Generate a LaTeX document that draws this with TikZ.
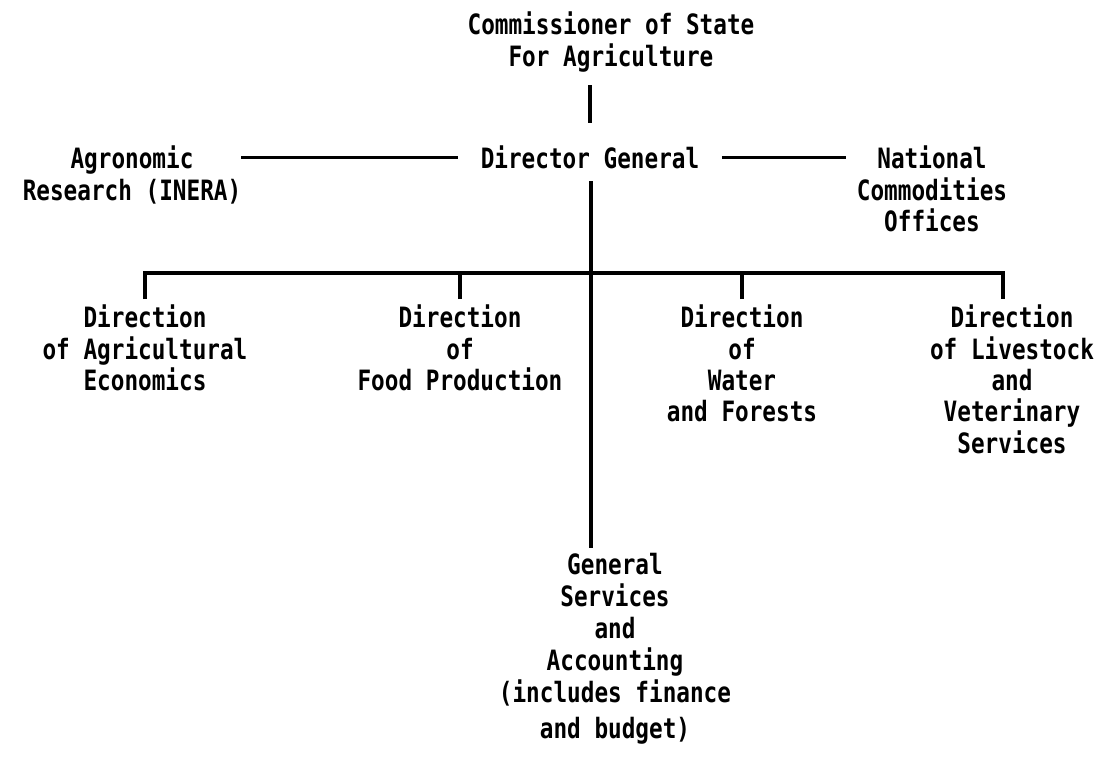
\documentclass[tikz,border=0pt]{standalone}
\usepackage{fontspec}
\newfontfamily\typefont{DejaVu Sans Mono}[FakeStretch=0.81]

\begin{document}

\begin{tikzpicture}[y=0.75pt, x=0.75pt,yscale=-1, inner sep=0pt, outer sep=0pt,
  office/.style={anchor=north,align=center,
    font=\typefont\bfseries\fontsize{21}{23.5}\selectfont},
  link/.style={draw=black,line width=2.6pt,line join=miter,line cap=butt}]

  \path[use as bounding box] (0,0) rectangle (1118,758);

  \node[office] (commissioner) at (611,12) {Commissioner of State\\For Agriculture};
  \node[office] (director) at (590,146) {Director General};
  \node[office] (inera) at (132,146) {Agronomic\\Research (INERA)};
  \node[office] (commodities) at (932,146) {National\\Commodities\\Offices};

  \node[office] (economics) at (145,305) {Direction\\of Agricultural\\Economics};
  \node[office] (food) at (460,305) {Direction\\of\\Food Production};
  \node[office] (forests) at (742,305) {Direction\\of\\Water\\and Forests};
  \node[office] (livestock) at (1012,305) {Direction\\of Livestock\\and\\Veterinary\\Services};

  \node[office,font=\typefont\bfseries\fontsize{21}{24}\selectfont] (services) at (615,553)
    {General\\Services\\and\\Accounting\\(includes finance\\[3pt]and budget)};

  \coordinate (bar) at (591,273);

  \path[link,shorten <=10pt,shorten >=17pt] (commissioner.south -| director.north)
    -- (director.north);
  \path[link,shorten >=17pt] (inera.east |- director.west) -- (director.west);
  \path[link,shorten <=17pt,shorten >=8pt] (director.east)
    -- (commodities.west |- director.east);
  \path[link,shorten <=9pt,shorten >=4pt] (director.south -| bar)
    -- (services.north -| bar);

  \path[link] ([yshift=-4.5pt]economics.north) |- (bar)
    -| ([xshift=-6.75pt,yshift=-4.5pt]livestock.north);
  \path[link] ([yshift=-4.5pt]food.north) -- (food.north |- bar);
  \path[link] ([yshift=-4.5pt]forests.north) -- (forests.north |- bar);

\end{tikzpicture}

\end{document}
